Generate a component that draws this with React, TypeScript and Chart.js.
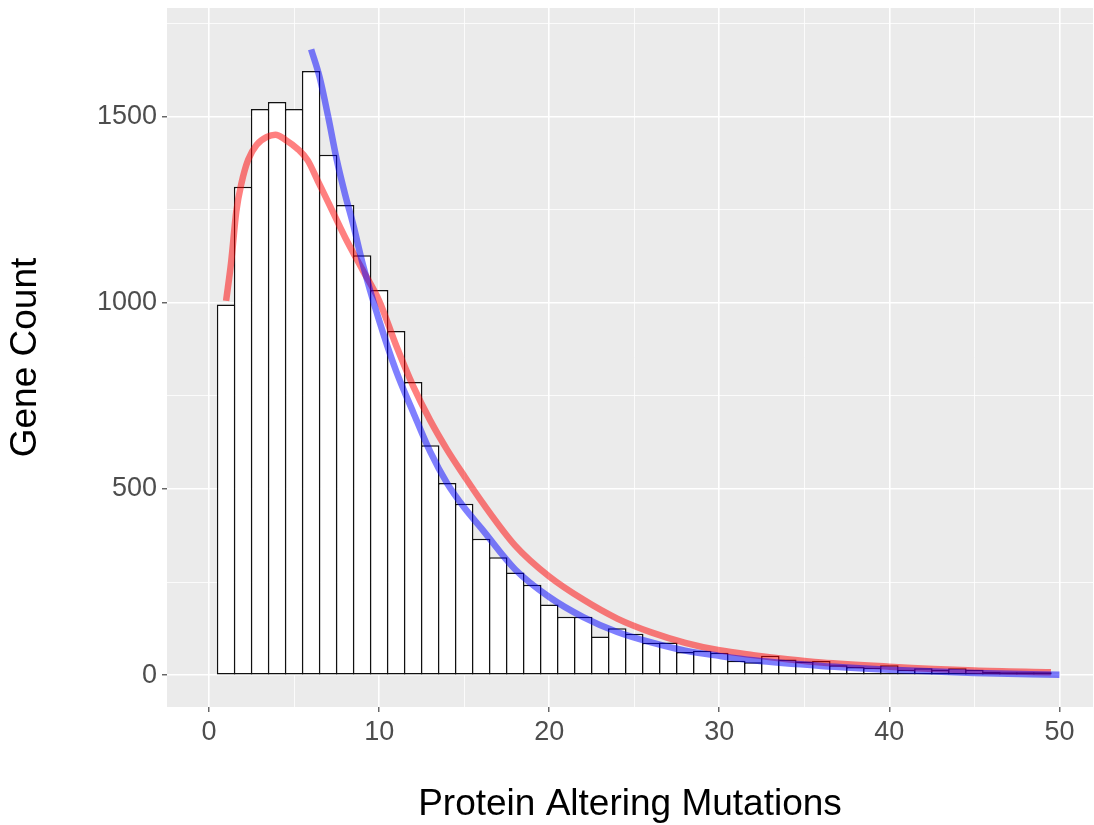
import React, { useEffect, useRef } from "react";
import { Chart, registerables } from "chart.js";

Chart.register(...registerables);

// Histogram bins (width 1, centred on integers)
const binCenters = [
  1, 2, 3, 4, 5, 6, 7, 8, 9, 10, 11, 12, 13, 14, 15, 16, 17, 18, 19, 20, 21, 22, 23, 24, 25,
  26, 27, 28, 29, 30, 31, 32, 33, 34, 35, 36, 37, 38, 39, 40, 41, 42, 43, 44, 45, 46, 47, 48, 49,
];
const geneCounts = [
  995, 1311, 1520, 1539, 1520, 1622, 1397, 1262, 1127, 1034, 924, 787, 617, 516, 460, 366, 317,
  276, 243, 190, 157, 157, 104, 126, 111, 87, 88, 62, 66, 60, 39, 35, 52, 42, 37, 38, 27, 22, 20,
  27, 15, 19, 15, 19, 15, 9, 8, 8, 8,
];

// Red fitted curve
const redX = [
  1, 1.3, 1.6, 1.9, 2.3, 2.8, 3.4, 3.9, 4.5, 5.2, 5.8, 6.4, 7, 7.5, 8, 9, 10, 11, 12, 13, 14, 15,
  16, 18, 20, 22, 24, 26, 28, 30, 32, 34, 36, 40, 45, 49.5,
];
const redY = [
  1005, 1110, 1245, 1320, 1384, 1424, 1445, 1451, 1437, 1413, 1382, 1326, 1270, 1222, 1175, 1090,
  1005, 885, 776, 684, 605, 535, 468, 348, 265, 203, 152, 115, 87, 67, 54, 43, 34, 23, 13, 8,
];

// Blue fitted curve
const blueX = [
  6, 6.5, 7, 7.5, 8, 8.5, 9, 10, 11, 12, 13, 14, 15, 16, 18, 20, 22, 24, 26, 28, 30, 32, 36, 40,
  45, 50,
];
const blueY = [
  1680, 1605, 1500, 1385, 1290, 1205, 1110, 952, 816, 706, 600, 515, 450, 395, 284, 210, 156, 116,
  88, 66, 52, 40, 25, 15, 6, 1,
];

const xMajorStep = 10;
const yMajorStep = 500;

const FONT = "'Liberation Sans', Arial, Helvetica, sans-serif";

const panelBg = {
  id: "panelBg",
  beforeDraw(chart: any) {
    const { ctx, chartArea } = chart;
    if (!chartArea) return;
    ctx.save();
    ctx.fillStyle = "#EBEBEB";
    ctx.fillRect(chartArea.left, chartArea.top, chartArea.right - chartArea.left, chartArea.bottom - chartArea.top);
    ctx.restore();
  },
};

export default function App() {
  const ref = useRef<HTMLCanvasElement | null>(null);

  useEffect(() => {
    if (!ref.current) return;
    const isMajor = (v: number, step: number) => Math.abs(v % step) < 1e-6;
    const chart = new Chart(ref.current, {
      type: "bar",
      data: {
        datasets: [
          {
            type: "line",
            label: "blue",
            data: blueX.map((x, i) => ({ x, y: blueY[i] })),
            borderColor: "rgba(0,0,255,0.5)",
            borderWidth: 6.5,
            pointRadius: 0,
            fill: false,
            cubicInterpolationMode: "monotone",
            borderCapStyle: "butt",
            borderJoinStyle: "round",
            order: 1,
          } as any,
          {
            type: "line",
            label: "red",
            data: redX.map((x, i) => ({ x, y: redY[i] })),
            borderColor: "rgba(255,0,0,0.5)",
            borderWidth: 6.5,
            pointRadius: 0,
            fill: false,
            cubicInterpolationMode: "monotone",
            borderCapStyle: "butt",
            borderJoinStyle: "round",
            order: 2,
          } as any,
          {
            type: "bar",
            label: "count",
            data: binCenters.map((x, i) => ({ x, y: geneCounts[i] })),
            backgroundColor: "#FFFFFF",
            borderColor: "#111111",
            borderWidth: 1.5,
            borderSkipped: false,
            barPercentage: 1.088,
            categoryPercentage: 1,
            order: 3,
          } as any,
        ],
      },
      options: {
        animation: false,
        responsive: true,
        maintainAspectRatio: false,
        layout: { padding: { top: 8, right: 1, bottom: 0, left: 0 } },
        plugins: { legend: { display: false }, tooltip: { enabled: false } },
        scales: {
          x: {
            type: "linear",
            min: -2.475,
            max: 51.975,
            offset: false,
            afterFit: (s: any) => {
              s.height = 118;
              s.paddingLeft = 0;
              s.paddingRight = 0;
            },
            border: { display: false },
            grid: {
              offset: false,
              color: "#FFFFFF",
              lineWidth: (c: any) => (c.tick && isMajor(c.tick.value, xMajorStep) ? 1.6 : 0.8),
              drawTicks: true,
              tickLength: 5,
              tickWidth: 1.1,
              tickColor: (c: any) => (c.tick && isMajor(c.tick.value, xMajorStep) ? "#333333" : "rgba(0,0,0,0)"),
            },
            ticks: {
              stepSize: 5,
              includeBounds: false,
              autoSkip: false,
              maxRotation: 0,
              padding: 4,
              color: "#4D4D4D",
              font: { family: FONT, size: 27 },
              callback: (v: any) => (isMajor(Number(v), xMajorStep) ? String(v) : ""),
            },
            title: {
              display: true,
              text: "Protein Altering Mutations",
              color: "#000000",
              font: { family: FONT, size: 37 },
              padding: { top: 0, bottom: -2 },
            },
          },
          y: {
            type: "linear",
            min: -85.3,
            max: 1791,
            afterFit: (s: any) => {
              s.width = 167;
              s.paddingTop = 0;
              s.paddingBottom = 0;
            },
            border: { display: false },
            grid: {
              color: "#FFFFFF",
              lineWidth: (c: any) => (c.tick && isMajor(c.tick.value, yMajorStep) ? 1.6 : 0.8),
              drawTicks: true,
              tickLength: 5,
              tickWidth: 1.1,
              tickColor: (c: any) => (c.tick && isMajor(c.tick.value, yMajorStep) ? "#333333" : "rgba(0,0,0,0)"),
            },
            ticks: {
              stepSize: 250,
              includeBounds: false,
              autoSkip: false,
              padding: 5,
              color: "#4D4D4D",
              font: { family: FONT, size: 27 },
              callback: (v: any) => (isMajor(Number(v), yMajorStep) ? String(v) : ""),
            },
            title: {
              display: true,
              text: "Gene Count",
              color: "#000000",
              font: { family: FONT, size: 37 },
              padding: { top: 4, bottom: 0 },
            },
          },
        },
      },
      plugins: [panelBg],
    } as any);
    return () => chart.destroy();
  }, []);

  return (
    <div style={{ position: "fixed", left: 0, top: 0, width: 1094, height: 825, background: "#FFFFFF" }}>
      <canvas ref={ref} />
    </div>
  );
}
